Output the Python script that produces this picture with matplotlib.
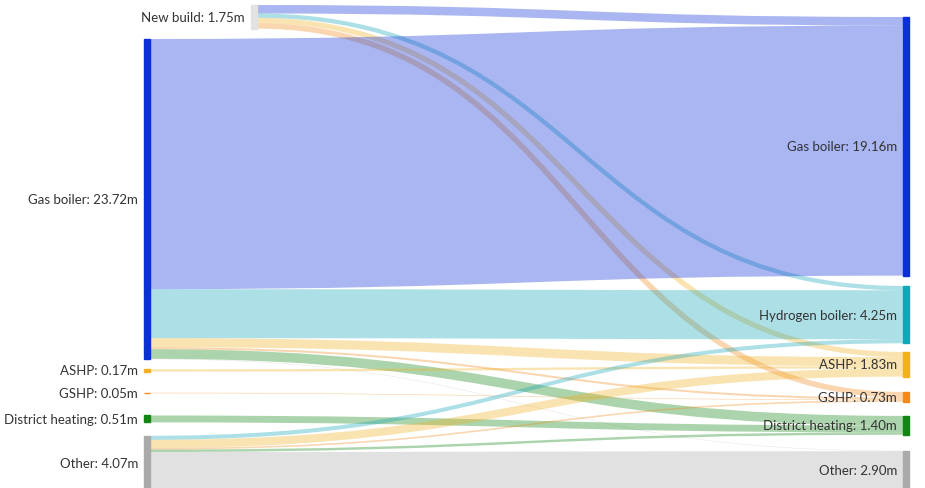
import matplotlib.pyplot as plt
from matplotlib.path import Path
from matplotlib.patches import PathPatch, Rectangle

# heating systems before (left) and after (right), millions of homes
left_names = ["New build", "Gas boiler", "ASHP", "GSHP", "District heating", "Other"]
left_values = [1.75, 23.72, 0.17, 0.05, 0.51, 4.07]
right_names = ["Gas boiler", "Hydrogen boiler", "ASHP", "GSHP", "District heating", "Other"]
right_values = [19.16, 4.25, 1.83, 0.73, 1.40, 2.90]

# flows: source index (left), target index (right), value
flow_src = [0, 0, 0, 0,
            1, 1, 1, 1, 1, 1,
            2, 3, 4,
            5, 5, 5, 5, 5]
flow_tgt = [0, 1, 2, 3,
            0, 1, 2, 3, 4, 5,
            2, 3, 4,
            1, 2, 3, 4, 5]
flow_val = [0.63, 0.32, 0.39, 0.41,
            18.53, 3.63, 0.67, 0.15, 0.71, 0.03,
            0.17, 0.05, 0.51,
            0.30, 0.60, 0.12, 0.18, 2.87]

colors = {
    "New build": "#e2e2e2",
    "Gas boiler": "#0b30d8",
    "Hydrogen boiler": "#14a5b9",
    "ASHP": "#f0b020",
    "GSHP": "#f08a1e",
    "District heating": "#128512",
    "Other": "#aaaaaa",
}

W, H = 925, 489
k = 13.5          # px per million
node_w = 6
link_alpha = 0.35

# layout: column x and vertical gaps between nodes (px)
left_x = [251, 144, 144, 144, 144, 144]
left_top0 = [6, 40]
left_gaps = [10.1, 21.1, 22.1, 13.4]
right_x = 903
right_top0 = 18
right_gaps = [10.3, 8.6, 15.3, 14.1, 16.0]

left_top = [left_top0[0], left_top0[1]]
y = left_top0[1] + left_values[1] * k
for g, v in zip(left_gaps, left_values[2:]):
    left_top.append(y + g)
    y = y + g + v * k

right_top = [right_top0]
y = right_top0 + right_values[0] * k
for g, v in zip(right_gaps, right_values[1:]):
    right_top.append(y + g)
    y = y + g + v * k

fig = plt.figure(figsize=(W / 100, H / 100), dpi=100)
ax = fig.add_axes([0, 0, 1, 1])
ax.set_xlim(0, W)
ax.set_ylim(H, 0)
ax.axis("off")

# links, stacked by target order at source and by source order at target
src_off = [0.0] * len(left_names)
tgt_off = [0.0] * len(right_names)
order_src = sorted(range(len(flow_val)), key=lambda i: (flow_src[i], right_top[flow_tgt[i]]))
ys0 = {}
for i in order_src:
    s = flow_src[i]
    ys0[i] = left_top[s] + src_off[s] + flow_val[i] * k / 2
    src_off[s] += flow_val[i] * k
order_tgt = sorted(range(len(flow_val)), key=lambda i: (flow_tgt[i], left_top[flow_src[i]]))
yt0 = {}
for i in order_tgt:
    t = flow_tgt[i]
    yt0[i] = right_top[t] + tgt_off[t] + flow_val[i] * k / 2
    tgt_off[t] += flow_val[i] * k

for i in range(len(flow_val)):
    x0 = left_x[flow_src[i]] + node_w
    x1 = right_x
    xm = (x0 + x1) / 2
    p = Path([(x0, ys0[i]), (xm, ys0[i]), (xm, yt0[i]), (x1, yt0[i])],
             [Path.MOVETO, Path.CURVE4, Path.CURVE4, Path.CURVE4])
    ax.add_patch(PathPatch(p, fill=False, edgecolor=colors[right_names[flow_tgt[i]]],
                           alpha=link_alpha, linewidth=flow_val[i] * k * 0.72,
                           capstyle="butt", zorder=1))

# nodes and labels
font = dict(fontsize=9.5, color="#333333", family="Lato")
for n, v, x, t in zip(left_names, left_values, left_x, left_top):
    ax.add_patch(Rectangle((x, t), node_w, v * k, color=colors[n], zorder=2))
    ax.text(x - 6, t + v * k / 2, f"{n}: {v:.2f}m", ha="right", va="center", **font)
for n, v, t in zip(right_names, right_values, right_top):
    ax.add_patch(Rectangle((right_x, t), node_w, v * k, color=colors[n], zorder=2))
    ax.text(right_x - 6, t + v * k / 2, f"{n}: {v:.2f}m", ha="right", va="center", zorder=3, **font)

fig.savefig("out.png", dpi=100)
